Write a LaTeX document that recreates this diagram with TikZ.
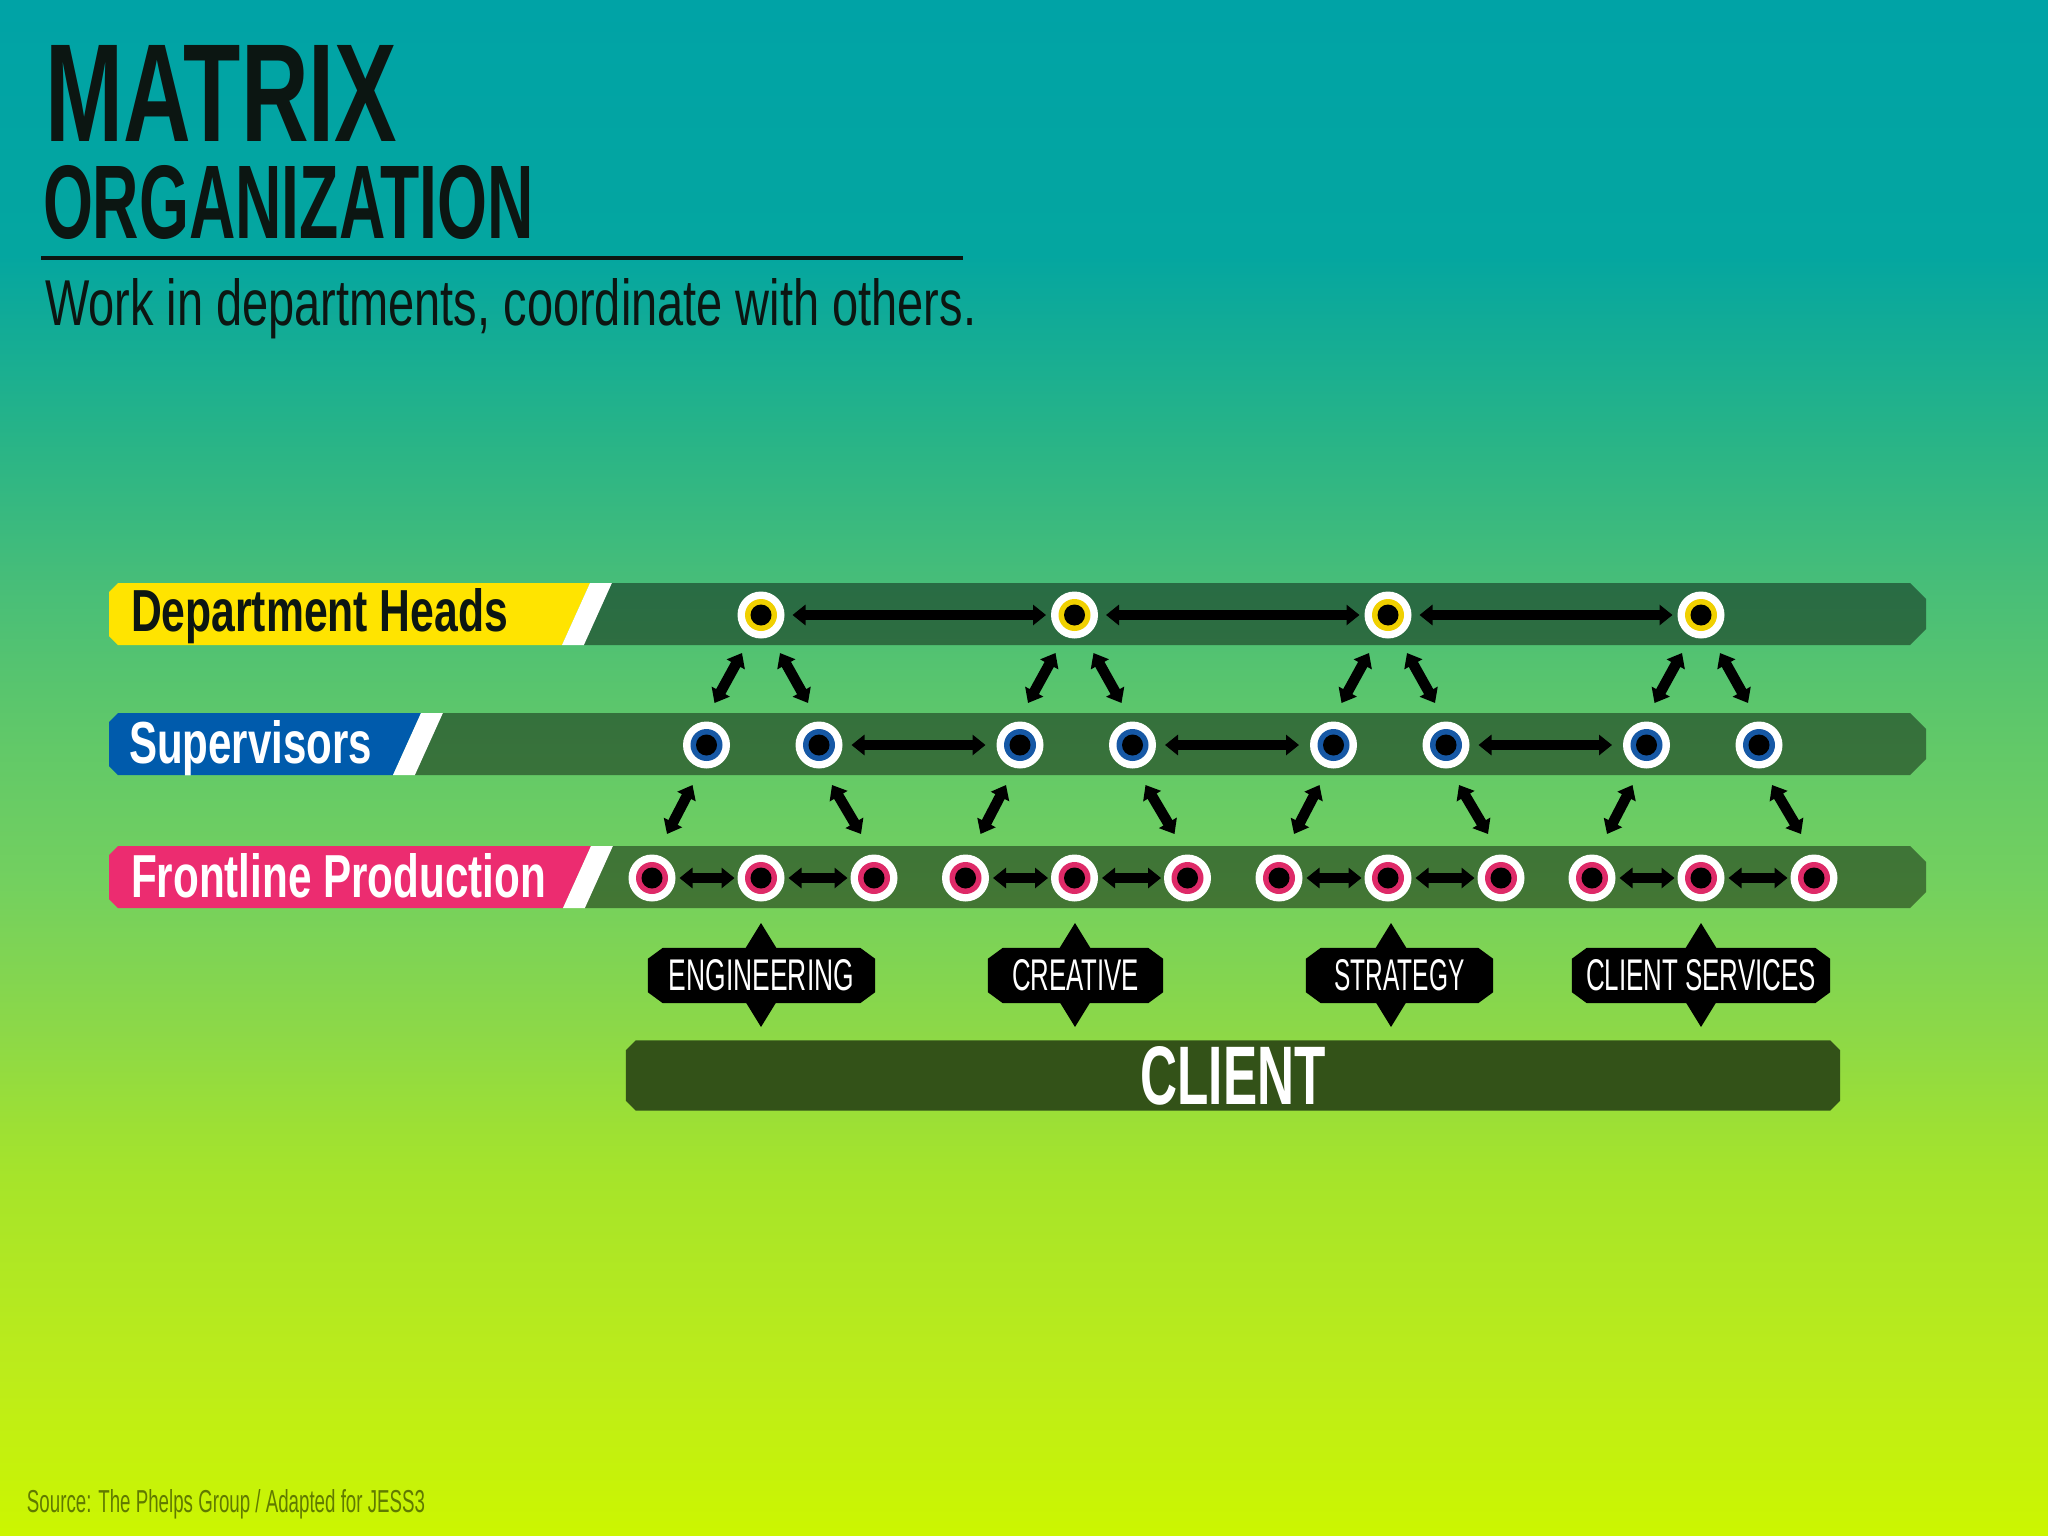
\documentclass[tikz,border=0pt]{standalone}
\usepackage{fontspec}
\setmainfont{Liberation Sans}
\usepackage{graphicx}
\usetikzlibrary{arrows.meta,calc}

\definecolor{g0}{RGB}{204,246,0}
\definecolor{g1}{RGB}{188,236,26}
\definecolor{g2}{RGB}{166,228,42}
\definecolor{g3}{RGB}{140,216,72}
\definecolor{g4}{RGB}{115,208,95}
\definecolor{g5}{RGB}{96,200,105}
\definecolor{g6}{RGB}{72,190,120}
\definecolor{g7}{RGB}{40,180,135}
\definecolor{g8}{RGB}{4,166,160}
\definecolor{g9}{RGB}{0,163,166}
\definecolor{titlec}{RGB}{12,22,18}
\definecolor{ylab}{RGB}{255,228,0}
\definecolor{blab}{RGB}{0,91,172}
\definecolor{plab}{RGB}{236,44,112}
\definecolor{ycirc}{RGB}{240,208,0}
\definecolor{bcirc}{RGB}{22,88,165}
\definecolor{pcirc}{RGB}{222,42,104}
\definecolor{clientc}{RGB}{51,82,24}
\definecolor{srcc}{RGB}{96,122,0}

\pgfdeclareverticalshading{bgsh}{100bp}{color(0bp)=(g0); color(25bp)=(g0); color(30.3bp)=(g1); color(36.7bp)=(g2); color(41.5bp)=(g3); color(46.3bp)=(g4); color(51.1bp)=(g5); color(55.9bp)=(g6); color(60.7bp)=(g7); color(66.7bp)=(g8); color(75bp)=(g9); color(100bp)=(g9)}

\pgfdeclarelayer{bgl}
\pgfdeclarelayer{mid}
\pgfsetlayers{bgl,mid,main}

\newcommand{\rowband}[4]{%
  \fill[#4] (118,#1) -- (#3,#1) -- (#3-28,#2) -- (118,#2) -- (109,#2-9) -- (109,#1+9) -- cycle;
  \fill[white] (#3,#1) -- (#3+22,#1) -- (#3-6,#2) -- (#3-28,#2) -- cycle;
  \fill[bandc] (#3+22,#1) -- (1910,#1) -- (1926,#1+16) -- (1926,#2-16) -- (1910,#2) -- (#3-6,#2) -- cycle;}
\newcommand{\chamf}[4]{%
  \fill[#4] ([xshift=#2]#1.north west) -- ([xshift=-#2]#1.north east) -- ([yshift=-#3]#1.north east) -- ([yshift=#3]#1.south east) -- ([xshift=-#2]#1.south east) -- ([xshift=#2]#1.south west) -- ([yshift=#3]#1.south west) -- ([yshift=-#3]#1.north west) -- cycle;}
\newcommand{\diam}[1]{\fill[black] (#1,923) -- (#1+32,975) -- (#1,1027) -- (#1-32,975) -- cycle;}

\begin{document}
\begin{tikzpicture}[x=1pt,y=-1pt,
  bandc/.style={fill=black,fill opacity=0.43},
  dot/.style={circle,fill=white,minimum size=47pt,inner sep=0pt,outer sep=0pt,
    path picture={\fill[#1] (path picture bounding box.center) circle (16pt);
                  \fill[black] (path picture bounding box.center) circle (10.5pt);}},
  arrowtips/.style={{Triangle[length=13pt,width=20pt]}-{Triangle[length=13pt,width=20pt]}},
  arr/.style={arrowtips,line width=10.5pt,black},
  txt/.style={anchor=base west,inner sep=0pt,outer sep=0pt},
  dbox/.style={minimum height=55pt,inner sep=0pt,text=white}]
\useasboundingbox (0,0) rectangle (2048,1536);

\begin{pgfonlayer}{bgl}
  \shade[shading=bgsh] (0,0) rectangle (2048,1536);
  \rowband{583}{645}{590}{ylab}
  \rowband{713}{775}{421}{blab}
  \rowband{846}{908}{591}{plab}
\end{pgfonlayer}

% titles
\node[txt,text=titlec] (tmatrix) at (45,141) {\resizebox{352pt}{96pt}{\bfseries MATRIX}};
\node[txt,text=titlec] (torg) at (43,238) {\resizebox{491pt}{73pt}{\bfseries ORGANIZATION}};
\coordinate (rule1) at (41,258);
\coordinate (rule2) at (963,258);
\draw[line width=4pt,titlec] (rule1) -- (rule2);
\node[txt,text=titlec] (tsub) at (45,325) {\resizebox{931pt}{47pt}{Work in departments, coordinate with others.}};

% row labels
\node[txt,text=titlec] (ldh) at (131,631) {\resizebox{377pt}{43pt}{\bfseries Department Heads}};
\node[txt,text=white] (lsup) at (129,763) {\resizebox{243pt}{43pt}{\bfseries Supervisors}};
\node[txt,text=white] (lfp) at (131,897) {\resizebox{415pt}{44pt}{\bfseries Frontline Production}};

% circles
\foreach \c [count=\i] in {761,1074.5,1388,1701} {
  \node[dot=ycirc] (Y\i) at (\c,615) {};
  \node[dot=bcirc] (S\i1) at (\c-54.5,745) {};
  \node[dot=bcirc] (S\i2) at (\c+58,745) {};
  \node[dot=pcirc] (F\i1) at (\c-109,878) {};
  \node[dot=pcirc] (F\i2) at (\c,878) {};
  \node[dot=pcirc] (F\i3) at (\c+113,878) {};
}

% horizontal arrows
\draw[arr,shorten <=8pt,shorten >=5pt] (Y1) -- (Y2);
\draw[arr,shorten <=8pt,shorten >=5pt] (Y2) -- (Y3);
\draw[arr,shorten <=8pt,shorten >=5pt] (Y3) -- (Y4);
\draw[arr,shorten <=9pt,shorten >=11pt] (S12) -- (S21);
\draw[arr,shorten <=9pt,shorten >=11pt] (S22) -- (S31);
\draw[arr,shorten <=9pt,shorten >=11pt] (S32) -- (S41);
\foreach \i in {1,2,3,4} {
  \draw[arr,shorten <=4pt,shorten >=3pt] (F\i1) -- (F\i2);
  \draw[arr,shorten <=4pt,shorten >=3pt] (F\i2) -- (F\i3);
  \draw[arr] ([xshift=-19pt,yshift=-38pt]Y\i.center) -- ([xshift=8pt,yshift=42pt]S\i1.center);
  \draw[arr] ([xshift=19pt,yshift=-38pt]Y\i.center) -- ([xshift=-11pt,yshift=42pt]S\i2.center);
  \draw[arr] ([xshift=-14pt,yshift=-40pt]S\i1.center) -- ([xshift=15pt,yshift=44pt]F\i1.center);
  \draw[arr] ([xshift=13pt,yshift=-40pt]S\i2.center) -- ([xshift=-13pt,yshift=44pt]F\i3.center);
}

% department boxes
\node[dbox,minimum width=227pt] (eng) at (761.5,975.5) {\raisebox{2pt}{\resizebox{185pt}{31pt}{ENGINEERING}}};
\node[dbox,minimum width=175pt] (cre) at (1075.5,975.5) {\raisebox{2pt}{\resizebox{127pt}{31pt}{CREATIVE}}};
\node[dbox,minimum width=187pt] (str) at (1399.5,975.5) {\raisebox{2pt}{\resizebox{130pt}{31pt}{STRATEGY}}};
\node[dbox,minimum width=258pt] (cs) at (1701,975.5) {\raisebox{2pt}{\resizebox{230pt}{31pt}{CLIENT SERVICES}}};

% client bar
\node[minimum width=1214pt,minimum height=70pt,inner sep=0pt,text=white] (client) at (1233,1075.5) {\resizebox{185pt}{58pt}{\bfseries CLIENT}};

\begin{pgfonlayer}{mid}
  \diam{761}\diam{1075}\diam{1391}\diam{1701}
  \chamf{eng}{15pt}{11pt}{black}
  \chamf{cre}{15pt}{11pt}{black}
  \chamf{str}{15pt}{11pt}{black}
  \chamf{cs}{15pt}{11pt}{black}
  \chamf{client}{10pt}{10pt}{clientc}
\end{pgfonlayer}

% source
\node[txt,text=srcc] (src) at (27,1512) {\resizebox{398pt}{23pt}{Source: The Phelps Group / Adapted for JESS3}};
\end{tikzpicture}
\end{document}
